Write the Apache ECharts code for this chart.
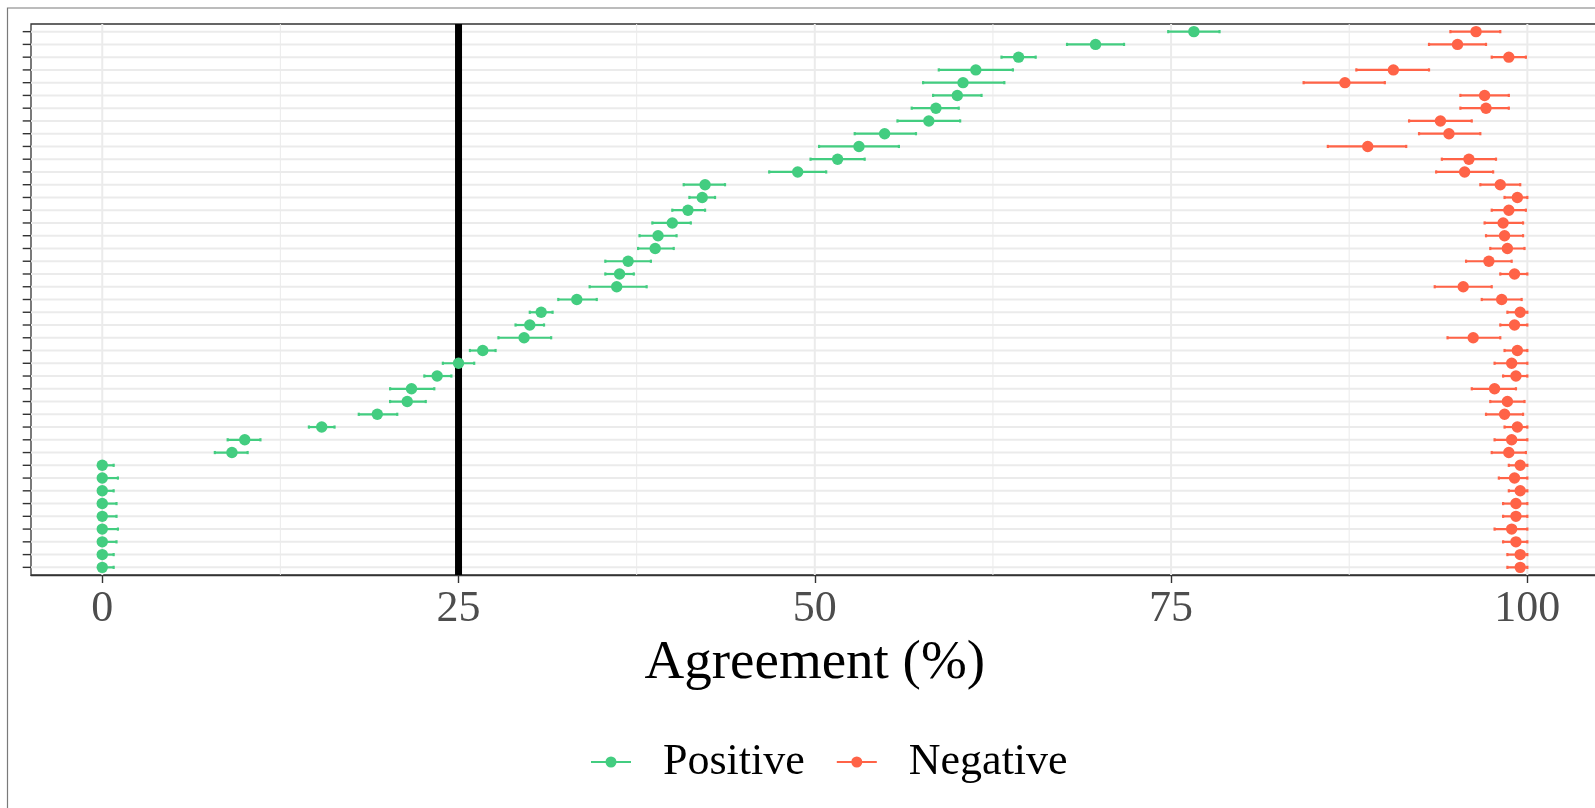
<!DOCTYPE html>
<html>
<head>
<meta charset="utf-8">
<script src="https://cdn.jsdelivr.net/npm/echarts@6/dist/echarts.min.js"></script>
<style>
  html, body { margin: 0; padding: 0; background: #ffffff; }
  #chart { width: 1595px; height: 808px; }
</style>
</head>
<body>
<div id="chart"></div>
<script>
// Rows, listed from the top of the panel to the bottom (names are not drawn).
const items = [
  'Item 01', 'Item 02', 'Item 03', 'Item 04', 'Item 05', 'Item 06', 'Item 07', 'Item 08', 'Item 09', 'Item 10',
  'Item 11', 'Item 12', 'Item 13', 'Item 14', 'Item 15', 'Item 16', 'Item 17', 'Item 18', 'Item 19', 'Item 20',
  'Item 21', 'Item 22', 'Item 23', 'Item 24', 'Item 25', 'Item 26', 'Item 27', 'Item 28', 'Item 29', 'Item 30',
  'Item 31', 'Item 32', 'Item 33', 'Item 34', 'Item 35', 'Item 36', 'Item 37', 'Item 38', 'Item 39', 'Item 40',
  'Item 41', 'Item 42', 'Item 43'
];

// Positive agreement (%): estimate and interval bounds
const posEst = [
  76.6, 69.7, 64.3, 61.3, 60.4, 60.0, 58.5, 58.0, 54.9, 53.1,
  51.6, 48.8, 42.3, 42.1, 41.1, 40.0, 39.0, 38.8, 36.9, 36.3,
  36.1, 33.3, 30.8, 30.0, 29.6, 26.7, 25.0, 23.5, 21.7, 21.4,
  19.3, 15.4, 10.0, 9.1, 0, 0, 0, 0, 0, 0,
  0, 0, 0
];
const posLow = [
  74.8, 67.7, 63.1, 58.7, 57.6, 58.3, 56.8, 55.8, 52.8, 50.3,
  49.7, 46.8, 40.8, 41.2, 40.0, 38.6, 37.7, 37.6, 35.3, 35.3,
  34.2, 32.0, 30.0, 29.0, 27.8, 25.8, 23.9, 22.6, 20.2, 20.2,
  18.0, 14.5, 8.8, 7.9, 0, 0, 0, 0, 0, 0,
  0, 0, 0
];
const posHigh = [
  78.4, 71.7, 65.5, 63.9, 63.3, 61.7, 60.1, 60.2, 57.1, 55.9,
  53.5, 50.8, 43.7, 43.0, 42.3, 41.3, 40.3, 40.1, 38.5, 37.3,
  38.2, 34.7, 31.6, 31.0, 31.5, 27.6, 26.1, 24.5, 23.3, 22.7,
  20.7, 16.3, 11.1, 10.2, 0.8, 1.1, 0.8, 1.0, 1.0, 1.1,
  1.0, 0.8, 0.8
];

// Negative agreement (%): estimate and interval bounds
const negEst = [
  96.4, 95.1, 98.7, 90.6, 87.2, 97.0, 97.1, 93.9, 94.5, 88.8,
  95.9, 95.6, 98.1, 99.3, 98.7, 98.3, 98.4, 98.6, 97.3, 99.1,
  95.5, 98.2, 99.5, 99.1, 96.2, 99.3, 98.9, 99.2, 97.7, 98.6,
  98.4, 99.3, 98.9, 98.7, 99.5, 99.1, 99.5, 99.2, 99.2, 98.9,
  99.2, 99.5, 99.5
];
const negLow = [
  94.6, 93.1, 97.5, 88.0, 84.3, 95.3, 95.3, 91.7, 92.4, 86.0,
  94.0, 93.6, 96.7, 98.4, 97.5, 97.0, 97.1, 97.4, 95.7, 98.1,
  93.5, 96.8, 98.6, 98.1, 94.4, 98.4, 97.7, 98.3, 96.1, 97.4,
  97.1, 98.4, 97.7, 97.5, 98.7, 98.0, 98.7, 98.3, 98.3, 97.7,
  98.3, 98.6, 98.6
];
const negHigh = [
  98.1, 97.1, 99.9, 93.1, 90.0, 98.7, 98.7, 96.1, 96.7, 91.5,
  97.8, 97.6, 99.5, 100, 99.9, 99.7, 99.7, 99.8, 98.9, 100,
  97.5, 99.6, 100, 100, 98.1, 100, 100, 100, 99.2, 99.8,
  99.7, 100, 100, 99.9, 100, 100, 100, 100, 100, 100,
  100, 100, 100
];

// X axis breaks and the reference line
const xTicks = [0, 25, 50, 75, 100];
const xMinorTicks = [12.5, 37.5, 62.5, 87.5];
const referenceLine = 25;

const FONT = "'Liberation Serif', 'Times New Roman', serif";
const GREEN = '#43CD80';
const RED = '#FF6347';
const GRID_COLOR = '#EBEBEB';
const INK = '#333333';

// Row i (0 = top) sits at y = i + 1 on an inverted value axis.
function rangeData(est, low, high) {
  return items.map((name, i) => ({ name: name, value: [est[i], low[i], high[i], i + 1] }));
}

// Point with a horizontal interval and small end caps.
function renderRange(params, api) {
  const y = api.value(3);
  const p = api.coord([api.value(0), y]);
  const a = api.coord([api.value(1), y]);
  const b = api.coord([api.value(2), y]);
  const color = api.visual('color');
  const cap = 1.6;
  const line = { stroke: color, lineWidth: 2.2 };
  return {
    type: 'group',
    children: [
      { type: 'line', shape: { x1: a[0], y1: a[1], x2: b[0], y2: b[1] }, style: line },
      { type: 'line', shape: { x1: a[0], y1: a[1] - cap, x2: a[0], y2: a[1] + cap }, style: line },
      { type: 'line', shape: { x1: b[0], y1: b[1] - cap, x2: b[0], y2: b[1] + cap }, style: line },
      { type: 'circle', shape: { cx: p[0], cy: p[1], r: 5.7 }, style: { fill: color } }
    ]
  };
}

// Vertical grid lines (major and minor x breaks).
function renderVGrid(params, api) {
  const cs = params.coordSys;
  const x = api.coord([api.value(0), 1])[0];
  return {
    type: 'line',
    shape: { x1: x, y1: cs.y, x2: x, y2: cs.y + cs.height },
    style: { stroke: GRID_COLOR, lineWidth: api.value(1) }
  };
}

// Horizontal grid line and axis tick for every row.
function renderRow(params, api) {
  const cs = params.coordSys;
  const y = api.coord([0, api.value(1)])[1];
  return {
    type: 'group',
    children: [
      { type: 'line', shape: { x1: cs.x, y1: y, x2: cs.x + cs.width, y2: y },
        style: { stroke: GRID_COLOR, lineWidth: 2 } },
      { type: 'line', shape: { x1: cs.x - 8.3, y1: y, x2: cs.x, y2: y },
        style: { stroke: INK, lineWidth: 1.4 } }
    ]
  };
}

// Thick vertical reference line.
function renderRef(params, api) {
  const cs = params.coordSys;
  const x = api.coord([api.value(0), 1])[0];
  return {
    type: 'line',
    shape: { x1: x, y1: cs.y, x2: x, y2: cs.y + cs.height },
    style: { stroke: '#000000', lineWidth: 7 }
  };
}

const LEGEND_ICON = 'path://M0,4.5h40v2.2h-40zM14.5,5.6a5.5,5.5 0 1,1 11,0a5.5,5.5 0 1,1 -11,0z';

const chart = echarts.init(document.getElementById('chart'), null, { renderer: 'canvas' });

chart.setOption({
  backgroundColor: '#ffffff',
  animation: false,
  graphic: [{
    type: 'rect',
    silent: true,
    z: -10,
    shape: { x: 7.5, y: 8, width: 2000, height: 2000 },
    style: { fill: 'none', stroke: '#7a7a7a', lineWidth: 1.2 }
  }],
  grid: {
    left: 31, top: 24, width: 1567.6, height: 551,
    show: true, backgroundColor: '#ffffff', borderColor: INK, borderWidth: 1.3,
    containLabel: false, outerBoundsMode: 'none'
  },
  xAxis: {
    type: 'value', min: -5, max: 105,
    axisLine: { show: true, onZero: false, lineStyle: { color: INK, width: 1.3 } },
    axisTick: { show: true, customValues: xTicks, length: 8, lineStyle: { color: INK, width: 1.4 } },
    axisLabel: { customValues: xTicks, fontSize: 44, fontFamily: FONT, color: '#4D4D4D', margin: 12 },
    splitLine: { show: false },
    name: 'Agreement (%)', nameLocation: 'middle', nameGap: 84,
    nameTextStyle: { fontSize: 55, fontFamily: FONT, color: '#000000', verticalAlign: 'middle' }
  },
  yAxis: {
    type: 'value', inverse: true, min: 0.4, max: 43.6,
    axisLine: { show: false }, axisTick: { show: false },
    axisLabel: { show: false }, splitLine: { show: false }
  },
  legend: {
    data: [
      { name: 'Positive', icon: LEGEND_ICON },
      { name: 'Negative', icon: LEGEND_ICON }
    ],
    left: 591, top: 740, padding: 0,
    itemWidth: 40, itemHeight: 11, itemGap: 32,
    selectedMode: false,
    textStyle: { fontSize: 44, fontFamily: FONT, color: '#000000', lineHeight: 44, padding: [0, 0, 0, 27] }
  },
  series: [
    {
      type: 'custom', name: 'xgrid', silent: true, z: 1,
      renderItem: renderVGrid, encode: { x: 0 },
      data: xMinorTicks.map(v => [v, 1]).concat(xTicks.map(v => [v, 2]))
    },
    {
      type: 'custom', name: 'rows', silent: true, z: 1,
      renderItem: renderRow, encode: { y: 1 },
      data: items.map((name, i) => [0, i + 1])
    },
    {
      type: 'custom', name: 'reference', silent: true, z: 2,
      renderItem: renderRef, encode: { x: 0 },
      data: [[referenceLine]]
    },
    {
      type: 'custom', name: 'Positive', z: 3,
      itemStyle: { color: GREEN },
      renderItem: renderRange, encode: { x: [0, 1, 2], y: 3 },
      data: rangeData(posEst, posLow, posHigh)
    },
    {
      type: 'custom', name: 'Negative', z: 3,
      itemStyle: { color: RED },
      renderItem: renderRange, encode: { x: [0, 1, 2], y: 3 },
      data: rangeData(negEst, negLow, negHigh)
    }
  ]
});
</script>
</body>
</html>
